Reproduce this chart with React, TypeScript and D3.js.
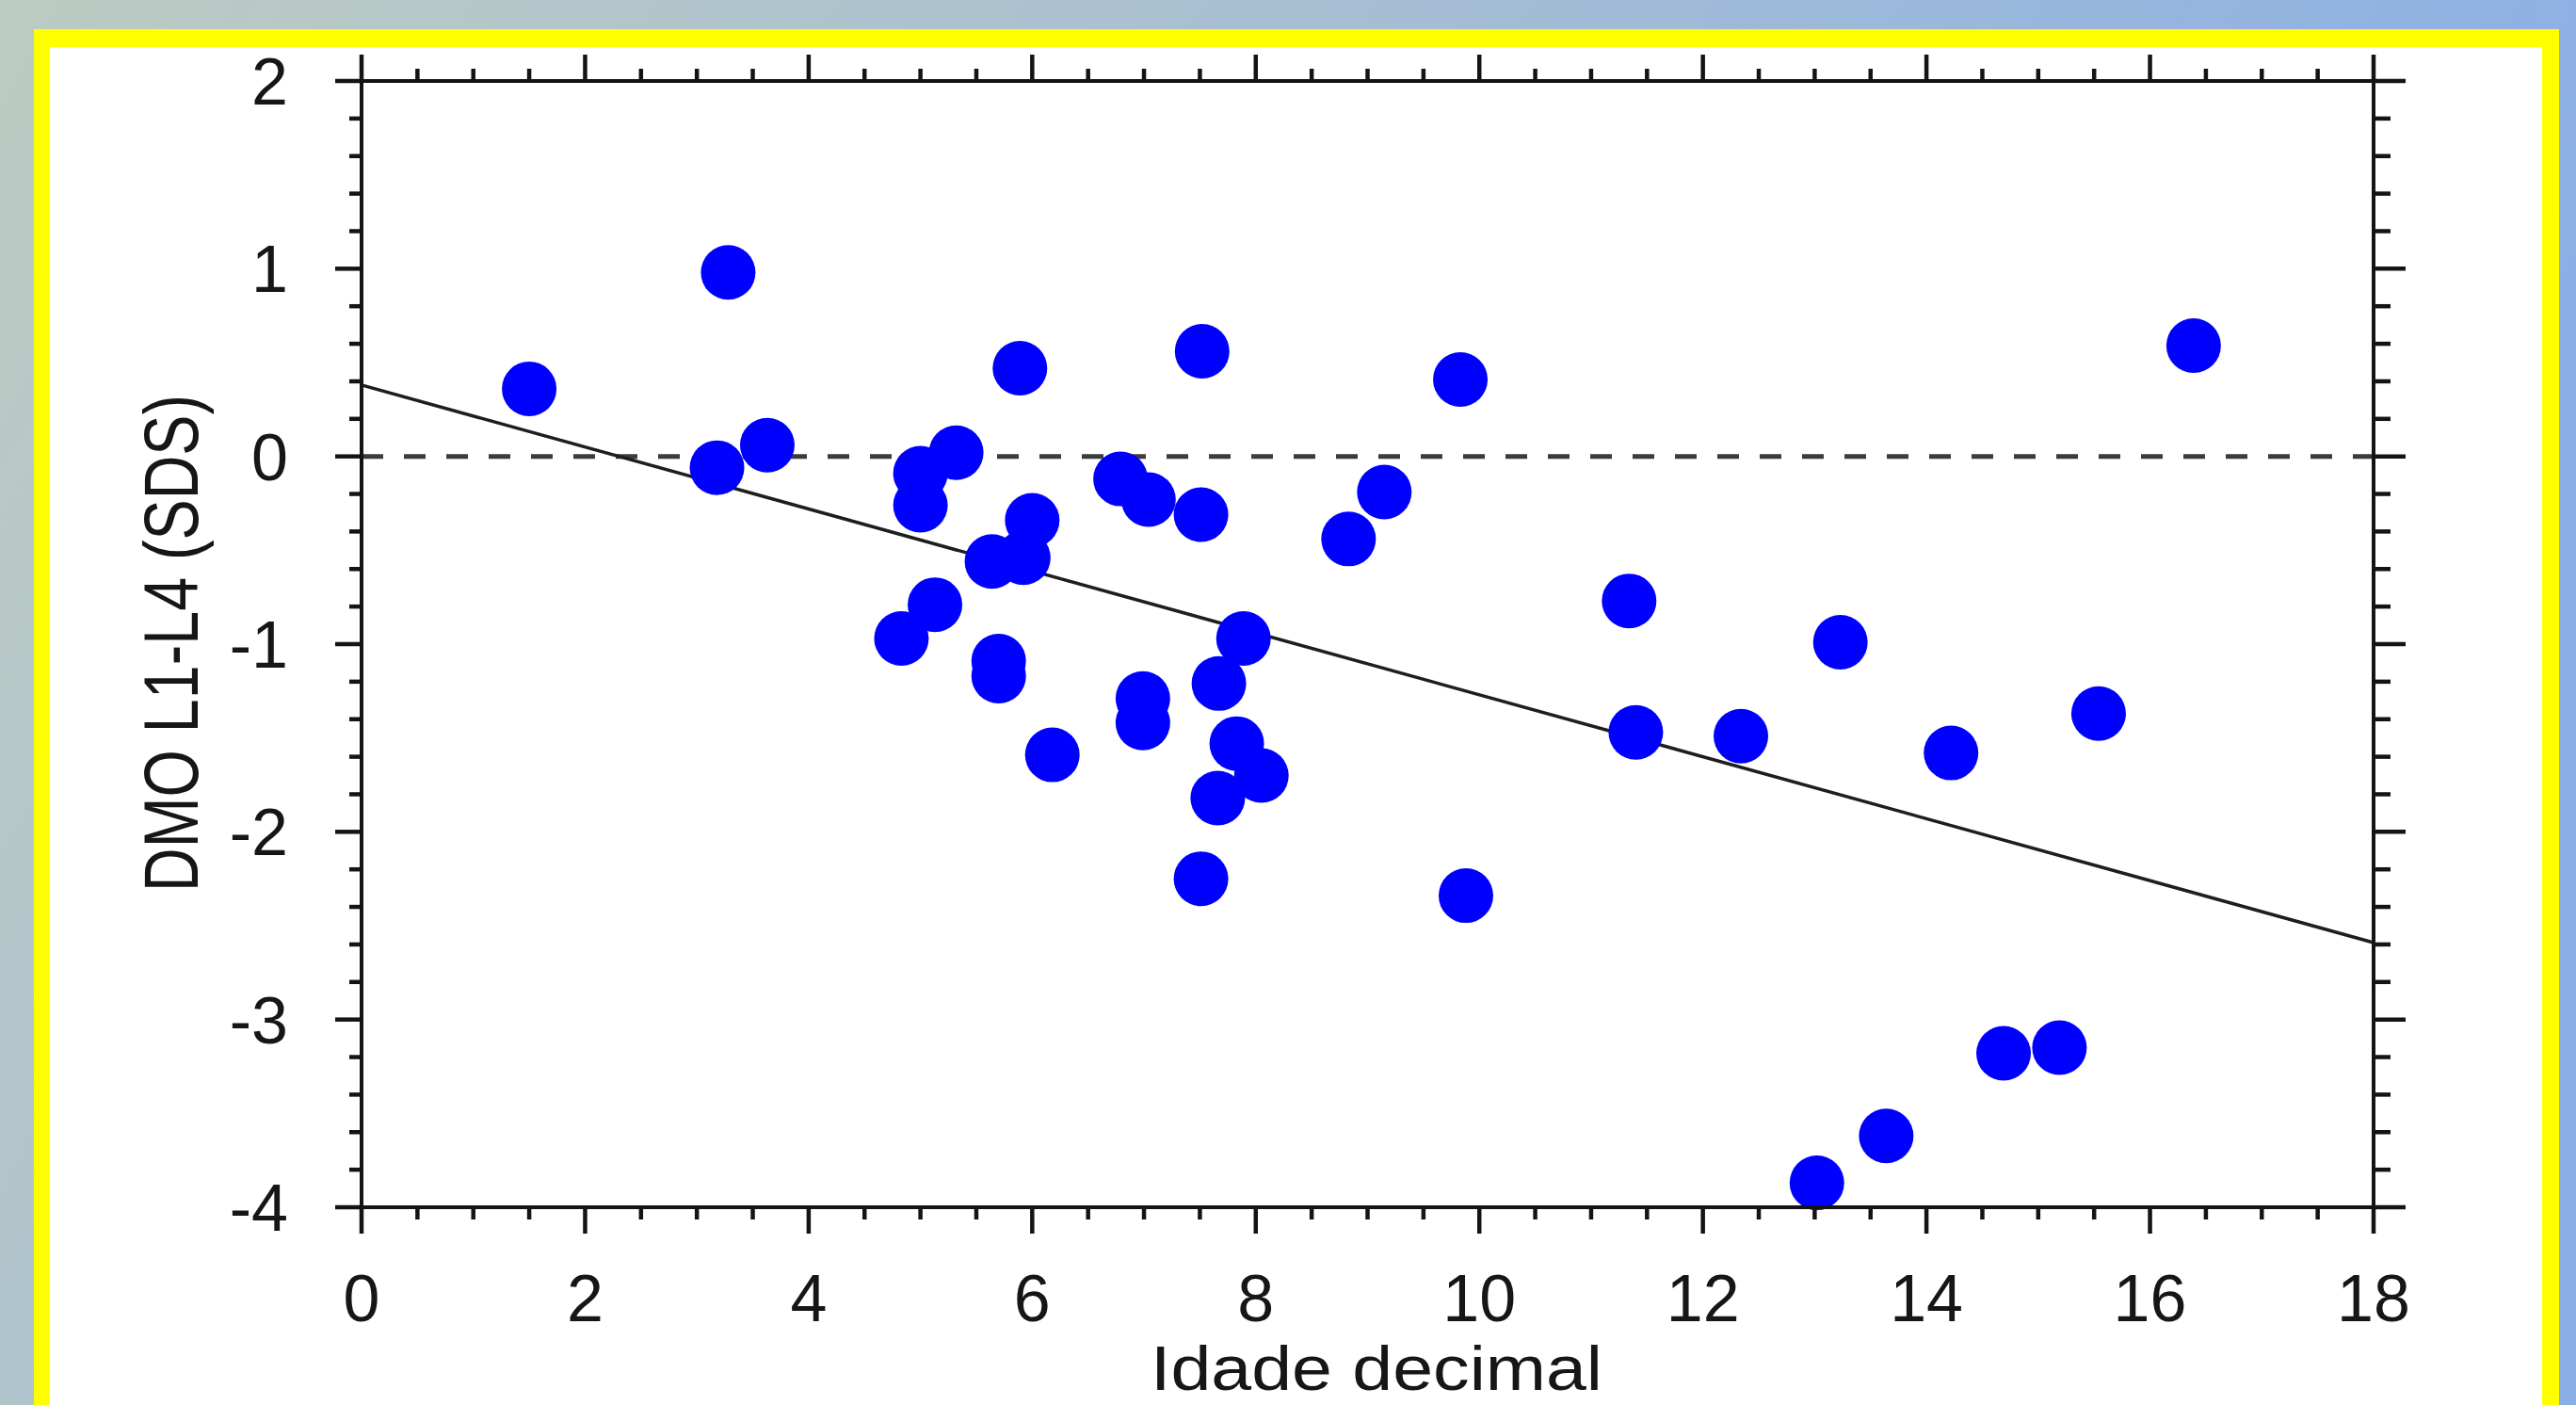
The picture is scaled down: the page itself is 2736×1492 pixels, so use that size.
import React from "react";
import * as d3 from "d3";

// ---- data ----
const ageValues = [
  1.5, 3.28, 3.18, 3.63, 5.0, 5.32, 5.0, 4.83, 5.13, 5.89, 6.0, 5.64, 5.92, 5.7, 5.7,
  6.18, 6.79, 7.04, 7.52, 7.51, 6.99, 6.99, 7.89, 7.67, 7.83, 8.05, 7.66, 7.51, 8.83,
  9.15, 9.83, 9.88, 11.34, 11.4, 12.34, 13.23, 14.22, 15.54, 16.39, 13.02, 13.64,
  14.69, 15.19,
];
const sdsValues = [
  0.36, 0.98, -0.06, 0.06, -0.09, 0.02, -0.26, -0.97, -0.79, 0.47, -0.34, -0.56, -0.54,
  -1.09, -1.17, -1.59, -0.12, -0.23, 0.56, -0.31, -1.29, -1.42, -0.97, -1.21, -1.53,
  -1.7, -1.82, -2.25, -0.44, -0.19, 0.41, -2.34, -0.77, -1.47, -1.49, -0.99, -1.58,
  -1.37, 0.59, -3.87, -3.62, -3.18, -3.15,
];
const regressionIntercept = 0.38;
const regressionSlope = -0.165;
const referenceLevel = 0;
const xTicks = [0, 2, 4, 6, 8, 10, 12, 14, 16, 18];
const yTicks = [2, 1, 0, -1, -2, -3, -4];
const xTitle = "Idade decimal";
const yTitle = "DMO L1-L4 (SDS)";

const W = 2736;
const H = 1492;
const FONT = "'Liberation Sans', Arial, Helvetica, sans-serif";

export default function App() {
  const x = d3.scaleLinear().domain([0, 18]).range([384, 2521]);
  const y = d3.scaleLinear().domain([-4, 2]).range([1282, 86]);

  const xMinor = d3.range(0, 18.001, 0.5).filter((v) => Math.abs(v / 2 - Math.round(v / 2)) > 1e-6);
  const yMinor = d3.range(-4, 2.001, 0.2).filter((v) => Math.abs(v - Math.round(v)) > 1e-6);

  const [x0, x1] = x.range();
  const [yb, yt] = y.range();

  const regLine = d3
    .line<number>()
    .x((d) => x(d))
    .y((d) => y(regressionIntercept + regressionSlope * d));
  const regPath = regLine(x.domain()) || "";

  const axisColor = "#141414";
  const axisW = 4;
  const tickW = 4.5;
  const majL = 28;
  const minL = 13;
  const majR = 34;
  const minR = 18;

  return (
    <svg
      width={W}
      height={H}
      viewBox={`0 0 ${W} ${H}`}
      style={{ position: "absolute", left: 0, top: 0, display: "block" }}
    >
      <defs>
        <linearGradient id="bg" x1="0" y1="0" x2="1" y2="0.3">
          <stop offset="0" stopColor="#bccbc2" />
          <stop offset="0.45" stopColor="#a8bfd2" />
          <stop offset="1" stopColor="#8aaee6" />
        </linearGradient>
      </defs>
      <rect x={0} y={0} width={W} height={H} fill="url(#bg)" />
      <rect x={36} y={31} width={2682} height={H} fill="#ffff00" />
      <rect x={53} y={50} width={2647} height={H} fill="#ffffff" />

      {/* reference zero line */}
      <line
        x1={x0}
        x2={x1}
        y1={y(referenceLevel)}
        y2={y(referenceLevel)}
        stroke="#3c3c3c"
        strokeWidth={5}
        strokeDasharray="23 22"
      />

      {/* regression line */}
      <path d={regPath} fill="none" stroke="#1e1e1e" strokeWidth={3.5} />

      {/* points */}
      {ageValues.map((a, i) => (
        <circle key={i} cx={x(a)} cy={y(sdsValues[i])} r={29} fill="#0000ff" />
      ))}

      {/* frame axes */}
      <g stroke={axisColor} strokeWidth={axisW} strokeLinecap="square">
        <line x1={x0} x2={x1} y1={yb} y2={yb} />
        <line x1={x0} x2={x1} y1={yt} y2={yt} />
        <line x1={x0} x2={x0} y1={yt} y2={yb} />
        <line x1={x1} x2={x1} y1={yt} y2={yb} />
      </g>

      {/* ticks */}
      <g stroke={axisColor} strokeWidth={tickW}>
        {xTicks.map((t) => (
          <g key={"xb" + t}>
            <line x1={x(t)} x2={x(t)} y1={yb} y2={yb + majL} />
            <line x1={x(t)} x2={x(t)} y1={yt} y2={yt - majL} />
          </g>
        ))}
        {xMinor.map((t) => (
          <g key={"xm" + t}>
            <line x1={x(t)} x2={x(t)} y1={yb} y2={yb + minL} />
            <line x1={x(t)} x2={x(t)} y1={yt} y2={yt - minL} />
          </g>
        ))}
        {yTicks.map((t) => (
          <g key={"yl" + t}>
            <line x1={x0} x2={x0 - majL} y1={y(t)} y2={y(t)} />
            <line x1={x1} x2={x1 + majR} y1={y(t)} y2={y(t)} />
          </g>
        ))}
        {yMinor.map((t) => (
          <g key={"ym" + t.toFixed(2)}>
            <line x1={x0} x2={x0 - minL} y1={y(t)} y2={y(t)} />
            <line x1={x1} x2={x1 + minR} y1={y(t)} y2={y(t)} />
          </g>
        ))}
      </g>

      {/* tick labels */}
      <g fontFamily={FONT} fontSize={70} fill="#161616">
        {xTicks.map((t) => (
          <text key={"xl" + t} x={x(t)} y={1403} textAnchor="middle">
            {String(t)}
          </text>
        ))}
        {yTicks.map((t) => (
          <text key={"ylab" + t} x={306} y={y(t) + 25} textAnchor="end">
            {String(t)}
          </text>
        ))}
      </g>

      {/* axis titles */}
      <text
        x={1462}
        y={1476}
        textAnchor="middle"
        fontFamily={FONT}
        fontSize={66}
        fill="#161616"
        textLength={480}
        lengthAdjust="spacingAndGlyphs"
      >
        {xTitle}
      </text>
      <text
        transform={`translate(210,683) rotate(-90)`}
        x={0}
        y={0}
        textAnchor="middle"
        fontFamily={FONT}
        fontSize={82}
        fill="#161616"
        textLength={528}
        lengthAdjust="spacingAndGlyphs"
      >
        {yTitle}
      </text>
    </svg>
  );
}
